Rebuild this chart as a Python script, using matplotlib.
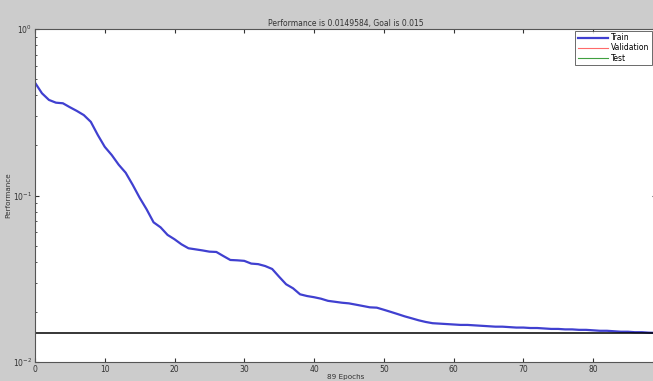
import matplotlib
matplotlib.use("Agg")
import matplotlib.pyplot as plt
import numpy as np

epochs = list(range(0, 90))
train_perf = [
    0.476, 0.411, 0.375, 0.361, 0.358, 0.339, 0.322, 0.304, 0.277, 0.231,
    0.196, 0.175, 0.153, 0.137, 0.116, 0.097, 0.0826, 0.069, 0.0644, 0.058,
    0.0546, 0.0509, 0.0482, 0.0475, 0.0468, 0.046, 0.0458, 0.0433, 0.041, 0.0408,
    0.0405, 0.039, 0.0387, 0.0377, 0.0362, 0.0325, 0.0293, 0.0277, 0.0255, 0.0249,
    0.0245, 0.0240, 0.0233, 0.0230, 0.0227, 0.0225, 0.0221, 0.0217, 0.0213, 0.0212,
    0.0206, 0.0200, 0.0194, 0.0188, 0.0183, 0.0178, 0.0174, 0.0171, 0.0170, 0.0169,
    0.0168, 0.0167, 0.0167, 0.0166, 0.0165, 0.0164, 0.0163, 0.0163, 0.0162, 0.0161,
    0.0161, 0.0160, 0.0160, 0.0159, 0.0158, 0.0158, 0.0157, 0.0157, 0.0156, 0.0156,
    0.0155, 0.0154, 0.0154, 0.0153, 0.0152, 0.0152, 0.0151, 0.0151, 0.0150, 0.01496,
]
goal = 0.015
title = "Performance is 0.0149584, Goal is 0.015"
xlabel = "89 Epochs"
ylabel = "Performance"
xticks = [0, 10, 20, 30, 40, 50, 60, 70, 80]

fig = plt.figure(figsize=(6.53, 3.81), dpi=100, facecolor="#cccccc")
ax = fig.add_axes([35/653, 19/381, (655.8-35)/653, (362-29)/381])
ax.set_facecolor("white")

ax.plot(epochs, train_perf, color="#4040d0", lw=1.6, label="Train")
ax.plot([], [], color="#ff6a6a", lw=0.8, label="Validation")
ax.plot([], [], color="#40a040", lw=0.8, label="Test")
ax.axhline(goal, color="black", lw=1.1)

ax.set_yscale("log")
ax.set_ylim(1e-2, 1e0)
ax.set_xlim(0, 89)
ax.set_xticks(xticks)
ax.tick_params(which="both", direction="in", top=True, right=True,
               labelsize=5.5, colors="#333333", length=3, pad=2)
ax.tick_params(which="minor", length=1.5)
for s in ax.spines.values():
    s.set_color("#555555")
    s.set_linewidth(0.8)

ax.set_title(title, fontsize=5.5, color="#333333", pad=2)
ax.set_xlabel(xlabel, fontsize=5.2, color="#333333", labelpad=0)
ax.set_ylabel(ylabel, fontsize=5.2, color="#333333", labelpad=1)

leg = ax.legend(loc="upper right", bbox_to_anchor=(652/653, 1 - 31/381),
                bbox_transform=fig.transFigure,
                fontsize=5.5, frameon=True, fancybox=False,
                borderaxespad=0.0, handlelength=4, labelspacing=0.15,
                borderpad=0.3, handletextpad=0.4)
leg.get_frame().set_edgecolor("#444444")
leg.get_frame().set_linewidth(0.7)

fig.savefig("out.png", dpi=100, facecolor=fig.get_facecolor())
